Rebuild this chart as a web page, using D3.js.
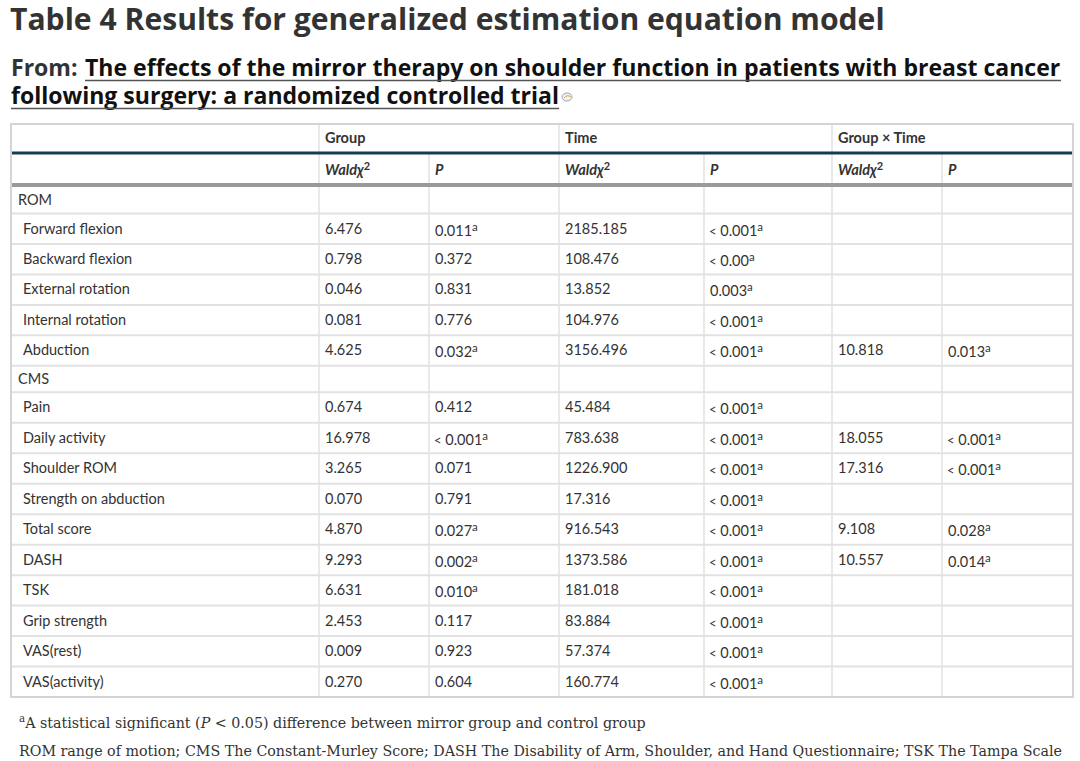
<!DOCTYPE html>
<html><head><meta charset="utf-8">
<script src="https://cdn.jsdelivr.net/npm/d3@7"></script>
<style>body{margin:0;background:#fff}</style>
</head><body>
<svg id="c" width="1080" height="761"></svg>
<script>
// ---------- DATA ----------
const titleText = "Table 4 Results for generalized estimation equation model";
const fromLine1 = "The effects of the mirror therapy on shoulder function in patients with breast cancer";
const fromLine2 = "following surgery: a randomized controlled trial";
const topHeaders = ["Group", "Time", "Group × Time"];
const subHeaders = ["Wald", "P", "Wald", "P", "Wald", "P"];
const sectionRows = ["ROM", "CMS"];
const rowLabels = ["ROM","Forward flexion","Backward flexion","External rotation","Internal rotation","Abduction","CMS","Pain","Daily activity","Shoulder ROM","Strength on abduction","Total score","DASH","TSK","Grip strength","VAS(rest)","VAS(activity)"];
const groupWald = ["","6.476","0.798","0.046","0.081","4.625","","0.674","16.978","3.265","0.070","4.870","9.293","6.631","2.453","0.009","0.270"];
const groupP    = ["","0.011a","0.372","0.831","0.776","0.032a","","0.412","< 0.001a","0.071","0.791","0.027a","0.002a","0.010a","0.117","0.923","0.604"];
const timeWald  = ["","2185.185","108.476","13.852","104.976","3156.496","","45.484","783.638","1226.900","17.316","916.543","1373.586","181.018","83.884","57.374","160.774"];
const timeP     = ["","< 0.001a","< 0.00a","0.003a","< 0.001a","< 0.001a","","< 0.001a","< 0.001a","< 0.001a","< 0.001a","< 0.001a","< 0.001a","< 0.001a","< 0.001a","< 0.001a","< 0.001a"];
const gxtWald   = ["","","","","","10.818","","","18.055","17.316","","9.108","10.557","","","",""];
const gxtP      = ["","","","","","0.013a","","","< 0.001a","< 0.001a","","0.028a","0.014a","","","",""];
const footnote2 = "ROM range of motion; CMS The Constant-Murley Score; DASH The Disability of Arm, Shoulder, and Hand Questionnaire; TSK The Tampa Scale";

// ---------- LAYOUT ----------
const svg = d3.select("#c");
const SANS = "Lato, 'Open Sans', sans-serif";
const HEAD = "'Open Sans', Lato, sans-serif";
const SERIF = "'DejaVu Serif', serif";
const colKeys = ["label","gW","gP","tW","tP","xW","xP"];
const colEdges = [11, 319, 429, 559, 704, 832, 942, 1073];
const xCol = d3.scaleOrdinal().domain(colKeys).range(colEdges.slice(0, 7));
const tableLeft = colEdges[0], tableRight = colEdges[7];
const tableTop = 124, head1Bottom = 153, head2Bottom = 187, tableBottom = 697;

// variable row heights: section rows are shorter
const rowWeights = rowLabels.map(l => sectionRows.includes(l) ? 26.5 : 30.47);
const rowStarts = [0, ...d3.cumsum(rowWeights)];
const yLin = d3.scaleLinear().domain([0, rowStarts[rowStarts.length - 1]]).range([head2Bottom, tableBottom]);
const yTop = i => yLin(rowStarts[i]);
const yBot = i => yLin(rowStarts[i + 1]);

function fitText(sel, target) {
  const fs = +sel.attr("font-size");
  const w = sel.node().getComputedTextLength();
  sel.attr("font-size", fs * target / w);
  return fs * target / w;
}

// Title
const title = svg.append("text").attr("x", 10).attr("y", 30)
  .attr("font-family", HEAD).attr("font-weight", 700).attr("font-size", 30)
  .attr("fill", "#333").text(titleText);
fitText(title, 875);

// From lines
const l1 = svg.append("text").attr("x", 85).attr("y", 76)
  .attr("font-family", HEAD).attr("font-weight", 700).attr("font-size", 24)
  .attr("fill", "#111").text(fromLine1);
const fs1 = fitText(l1, 976);
svg.append("text").attr("x", 11).attr("y", 76)
  .attr("font-family", HEAD).attr("font-weight", 700).attr("font-size", fs1)
  .attr("fill", "#333").text("From:");
svg.append("line").attr("x1", 85).attr("x2", 1061).attr("y1", 80.5).attr("y2", 80.5)
  .attr("stroke", "#555").attr("stroke-width", 1.3);
const l2 = svg.append("text").attr("x", 11).attr("y", 104)
  .attr("font-family", HEAD).attr("font-weight", 700).attr("font-size", fs1)
  .attr("fill", "#111").text(fromLine2);
const l2w = l2.node().getComputedTextLength();
svg.append("line").attr("x1", 11).attr("x2", 11 + l2w).attr("y1", 108.5).attr("y2", 108.5)
  .attr("stroke", "#555").attr("stroke-width", 1.3);
const ic = svg.append("g").attr("transform", `translate(${11 + l2w + 8},${97})`);
ic.append("ellipse").attr("rx", 5).attr("ry", 4).attr("fill", "#eef1f4").attr("stroke", "#9aa6b2").attr("stroke-width", 1);
ic.append("path").attr("d", "M-3,1 Q0,-3 4,0").attr("fill", "none").attr("stroke", "#e0a040").attr("stroke-width", 1);

// ---------- TABLE GRID ----------
const g = svg.append("g");
const lightLine = "#e2e2e2";
rowLabels.forEach((_, i) => {
  if (i > 0) g.append("line").attr("x1", tableLeft).attr("x2", tableRight)
    .attr("y1", yTop(i)).attr("y2", yTop(i)).attr("stroke", lightLine).attr("stroke-width", 2);
});
colEdges.slice(1, 7).forEach((x, k) => {
  const spanEdge = (k === 0 || k === 2 || k === 4);
  g.append("line").attr("x1", x).attr("x2", x)
    .attr("y1", spanEdge ? tableTop : head1Bottom).attr("y2", tableBottom)
    .attr("stroke", lightLine).attr("stroke-width", 1.5);
});
g.append("line").attr("x1", tableLeft).attr("x2", tableRight).attr("y1", head1Bottom).attr("y2", head1Bottom)
  .attr("stroke", "#153d52").attr("stroke-width", 3);
g.append("line").attr("x1", tableLeft).attr("x2", tableRight).attr("y1", head2Bottom - 2).attr("y2", head2Bottom - 2)
  .attr("stroke", "#9a9a9a").attr("stroke-width", 4);
g.append("rect").attr("x", tableLeft).attr("y", tableTop).attr("width", tableRight - tableLeft)
  .attr("height", tableBottom - tableTop).attr("fill", "none").attr("stroke", "#d4d4d4").attr("stroke-width", 2);

// ---------- HEADERS ----------
const txtColor = "#333";
const topKeys = ["gW", "tW", "xW"];
topHeaders.forEach((h, k) => {
  g.append("text").attr("x", xCol(topKeys[k]) + 6).attr("y", 143)
    .attr("font-family", SANS).attr("font-weight", 700).attr("font-size", 14.5)
    .attr("fill", txtColor).text(h);
});
subHeaders.forEach((h, k) => {
  const t = g.append("text").attr("x", xCol(colKeys[k + 1]) + 6).attr("y", 175)
    .attr("font-family", SANS).attr("font-weight", 700).attr("font-style", "italic").attr("font-size", 14.5)
    .attr("fill", txtColor);
  if (h === "Wald") {
    t.append("tspan").text("Wald");
    t.append("tspan").text("χ");
    t.append("tspan").attr("font-size", 11).attr("dy", -5).attr("font-style", "normal").text("2");
  } else {
    t.text(h);
  }
});

// ---------- BODY ----------
function cell(x, yBase, val) {
  if (!val) return;
  const sup = val.endsWith("a");
  const core = sup ? val.slice(0, -1) : val;
  const t = g.append("text").attr("x", x).attr("y", yBase + (sup ? 2 : 0))
    .attr("font-family", SANS).attr("font-size", 14.5).attr("fill", txtColor);
  if (core.startsWith("<")) {
    t.append("tspan").attr("font-size", 13).text("<");
    t.append("tspan").text(" " + core.slice(1).trim());
  } else {
    t.append("tspan").text(core);
  }
  if (sup) t.append("tspan").attr("font-size", 11.5).attr("dy", -5).text("a");
}
const cols = [groupWald, groupP, timeWald, timeP, gxtWald, gxtP];
rowLabels.forEach((lab, i) => {
  const yb = (yTop(i) + yBot(i)) / 2 + 4.8;
  const isSec = sectionRows.includes(lab);
  g.append("text").attr("x", xCol("label") + (isSec ? 7 : 12)).attr("y", yb)
    .attr("font-family", SANS).attr("font-size", 14.5).attr("fill", txtColor).text(lab);
  cols.forEach((arr, k) => {
    const key = colKeys[k + 1];
    const pad = (arr[i].startsWith("<")) ? 5 : 6;
    cell(xCol(key) + pad, yb, arr[i]);
  });
});

// ---------- FOOTNOTES ----------
const f2 = svg.append("text").attr("x", 19).attr("y", 756)
  .attr("font-family", SERIF).attr("font-size", 14.5).attr("fill", "#333").text(footnote2);
const ffs = fitText(f2, 1043);
const f1 = svg.append("text").attr("x", 19).attr("y", 728)
  .attr("font-family", SERIF).attr("font-size", ffs).attr("fill", "#333");
f1.append("tspan").attr("font-size", ffs * 0.72).attr("dy", -6).text("a");
f1.append("tspan").attr("dy", 6).text("A statistical significant (");
f1.append("tspan").attr("font-style", "italic").text("P");
f1.append("tspan").text(" < 0.05) difference between mirror group and control group");
</script>
</body></html>
